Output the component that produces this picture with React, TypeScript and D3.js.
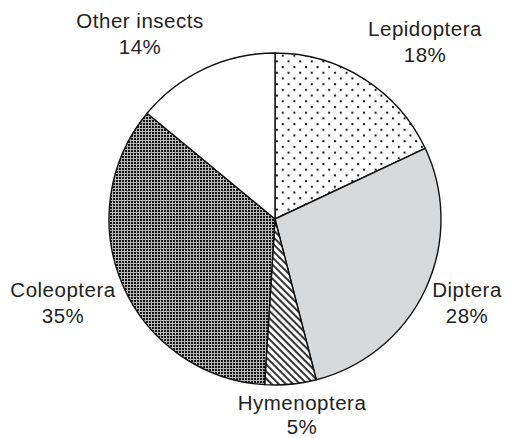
import React from "react";
import * as d3 from "d3";

const categories = ["Lepidoptera", "Diptera", "Hymenoptera", "Coleoptera", "Other insects"];
const values = [18, 28, 5, 35, 14];
const percentLabels = ["18%", "28%", "5%", "35%", "14%"];

// layout: label anchor offsets relative to pie center (x, first baseline)
const labelLayout = [
  { dx: 150, dy: -183 },
  { dx: 192, dy: 78 },
  { dx: 27, dy: 191 },
  { dx: -212, dy: 78 },
  { dx: -135, dy: -191 },
];
const fills = ["url(#dots)", "#d8d9da", "url(#hatch)", "url(#checker)", "#ffffff"];

const W = 508;
const H = 438;
const cx = 275;
const cy = 219;
const R = 166;

export default function App() {
  const pie = d3.pie<number>().sort(null).value((d) => d);
  const arcs = pie(values);
  const arc = d3.arc<d3.PieArcDatum<number>>().innerRadius(0).outerRadius(R);
  return (
    <svg width={W} height={H} style={{ position: "absolute", left: 0, top: 0 }}>
      <defs>
        <pattern id="dots" patternUnits="userSpaceOnUse" width={11.6} height={11.4}>
          <rect width={11.6} height={11.4} fill="#fff" />
          <rect x={1} y={1} width={2} height={2} fill="#111" />
          <rect x={6.8} y={6.7} width={2} height={2} fill="#111" />
        </pattern>
        <pattern id="checker" patternUnits="userSpaceOnUse" width={3} height={3}>
          <rect width={3} height={3} fill="#b8b8b8" />
          <rect width={2} height={2} fill="#111" />
        </pattern>
        <pattern id="hatch" patternUnits="userSpaceOnUse" width={5} height={5} patternTransform="rotate(-45)">
          <rect width={5} height={5} fill="#fff" />
          <line x1={1} y1={0} x2={1} y2={5} stroke="#111" strokeWidth={1.7} />
        </pattern>
      </defs>
      <rect width={W} height={H} fill="#fff" />
      <g transform={`translate(${cx},${cy})`}>
        {arcs.map((a, i) => (
          <path key={categories[i]} d={arc(a) || ""} fill={fills[i]} stroke="#111" strokeWidth={1.4} strokeLinejoin="round" />
        ))}
        {arcs.map((a, i) => (
          <text
            key={"t" + i}
            x={labelLayout[i].dx}
            y={labelLayout[i].dy}
            textAnchor="middle"
            fontFamily="'Liberation Sans', Arial, sans-serif"
            fontSize={20.5}
            letterSpacing={0.5}
            fill="#222"
          >
            <tspan x={labelLayout[i].dx}>{categories[i]}</tspan>
            <tspan x={labelLayout[i].dx} dy={i === 2 ? 24 : 26}>{percentLabels[i]}</tspan>
          </text>
        ))}
      </g>
    </svg>
  );
}
